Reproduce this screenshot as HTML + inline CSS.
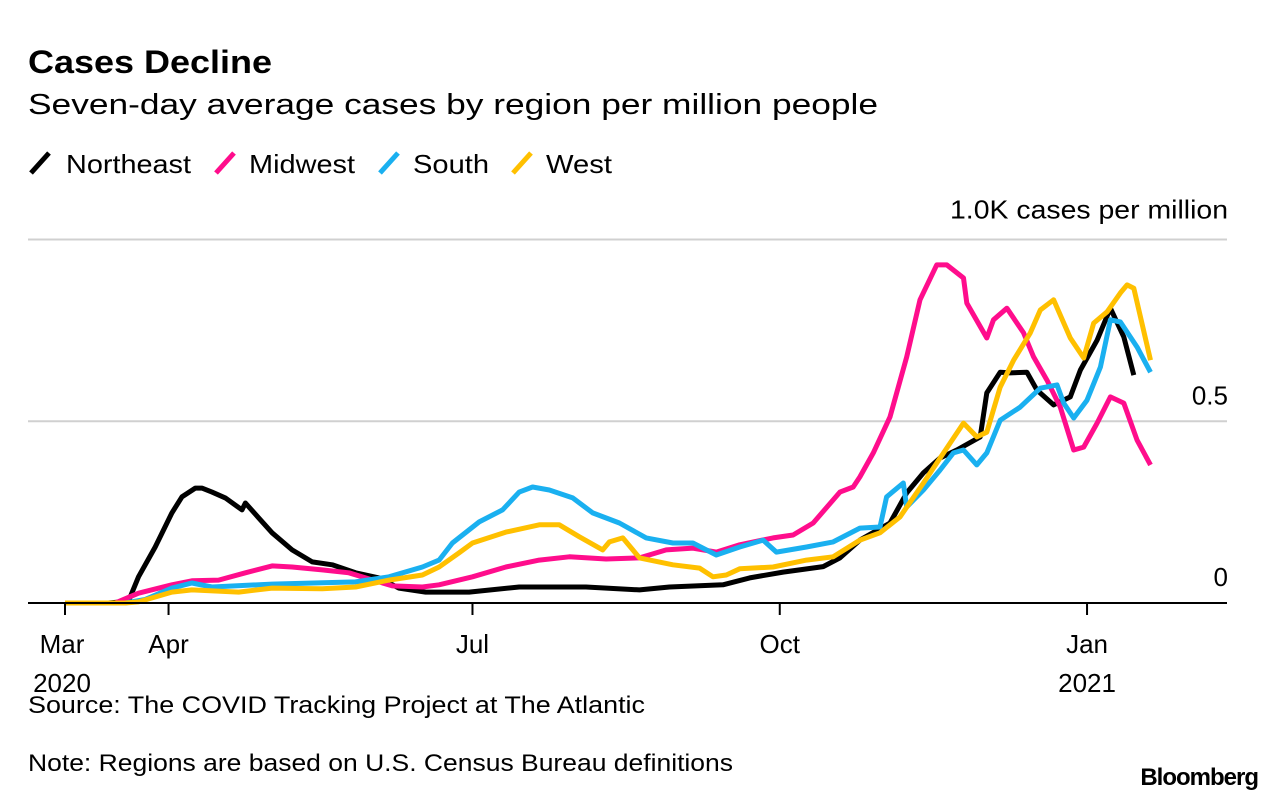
<!DOCTYPE html>
<html><head><meta charset="utf-8"><style>
body{margin:0;background:#fff;width:1286px;height:802px;overflow:hidden;font-family:"Liberation Sans",sans-serif;}
svg text{font-family:"Liberation Sans",sans-serif;}
</style></head><body>
<svg width="1286" height="802">
<text x="28" y="73" font-size="32" font-weight="bold" fill="#000" textLength="244" lengthAdjust="spacingAndGlyphs">Cases Decline</text>
<text x="28" y="114" font-size="29" fill="#000" textLength="850" lengthAdjust="spacingAndGlyphs">Seven-day average cases by region per million people</text>
<g>
<g><line x1="31" y1="173" x2="49" y2="153" stroke="#000" stroke-width="5"/><text x="66" y="173" font-size="26" textLength="125" lengthAdjust="spacingAndGlyphs">Northeast</text></g>
<g><line x1="216" y1="173" x2="234" y2="153" stroke="#ff0d8c" stroke-width="5"/><text x="249" y="173" font-size="26" textLength="106" lengthAdjust="spacingAndGlyphs">Midwest</text></g>
<g><line x1="380" y1="173" x2="398" y2="153" stroke="#1ab0f0" stroke-width="5"/><text x="413" y="173" font-size="26" textLength="76" lengthAdjust="spacingAndGlyphs">South</text></g>
<g><line x1="513" y1="173" x2="531" y2="153" stroke="#ffc000" stroke-width="5"/><text x="546" y="173" font-size="26" textLength="66" lengthAdjust="spacingAndGlyphs">West</text></g>
</g>
<g id="grid"></g>
<g id="series"></g>
<g id="xaxis"></g>
<text x="28" y="713" font-size="24" textLength="617" lengthAdjust="spacingAndGlyphs">Source: The COVID Tracking Project at The Atlantic</text>
<text x="28" y="771" font-size="24" textLength="705" lengthAdjust="spacingAndGlyphs">Note: Regions are based on U.S. Census Bureau definitions</text>
<text x="1258" y="785" font-size="24" font-weight="bold" text-anchor="end" letter-spacing="-1">Bloomberg</text>
</svg>
<script>
const yTicks=[0,500,1000];
const yTickLabels=["0","0.5","1.0K cases per million"];
const xTickDays=[0,31,122,214,306];
const xTickLabels=["Mar","Apr","Jul","Oct","Jan"];
const xYearLabels=["2020","","","","2021"];
const neDays=[0,13,19,22,27,32,35,39,41,44,48,53,54,58,62,68,74,80,87,94,100,108,121,136,156,172,181,197,205,215,227,232,238,247,252,257,262,267,274,276,280,283,288,291,296,301,304,309,313,317,320,325];
const neVals=[0,0,5,72,154,248,292,316,316,305,289,256,275,234,193,146,113,105,83,69,41,30,30,44,44,36,44,50,69,85,100,124,173,220,303,358,399,421,457,578,635,633,635,586,545,567,641,723,811,732,627];
const mwDays=[0,15,22,32,38,46,54,62,68,77,85,90,98,107,112,122,132,142,151,162,172,180,188,195,202,212,218,224,232,236,238,242,247,252,256,261,264,269,270,276,278,282,287,290,294,298,302,305,309,313,317,321,325];
const mwVals=[0,0,27,50,61,63,83,102,99,91,83,69,47,44,50,72,99,118,127,121,124,146,151,140,160,179,187,220,305,319,347,413,512,677,834,930,930,894,825,729,779,811,743,677,613,539,421,429,495,567,550,448,380];
const soDays=[0,18,24,32,38,44,62,87,97,107,112,116,124,131,136,140,145,152,158,166,174,182,188,195,202,209,213,222,230,238,244,246,251,252,257,262,266,269,273,276,280,286,292,297,299,302,306,310,313,316,321,325];
const soVals=[0,0,10,41,55,44,52,58,72,99,118,165,223,256,305,319,311,289,248,220,179,165,165,132,154,173,140,154,168,206,209,292,330,264,311,366,413,421,380,413,503,539,591,600,550,509,558,649,779,773,704,635];
const weDays=[0,18,22,32,38,52,62,77,87,97,107,112,118,122,132,142,148,154,161,163,167,172,182,190,194,198,202,212,222,230,238,244,250,257,265,269,273,276,280,284,289,292,296,301,305,308,312,316,318,320,325];
const weVals=[0,0,3,30,36,30,41,39,44,63,77,99,138,165,195,215,215,182,146,168,179,124,105,96,72,77,94,99,118,127,173,193,237,330,440,495,457,470,594,668,743,806,834,729,674,770,801,853,875,866,668];
const X=d=>65+d*3.34, Y=v=>603-v*0.3635;
const NS="http://www.w3.org/2000/svg";
const g=document.getElementById('grid'), s=document.getElementById('series'), xa=document.getElementById('xaxis');
function mk(tag,attrs,parent){const e=document.createElementNS(NS,tag);for(const k in attrs)e.setAttribute(k,attrs[k]);parent.appendChild(e);return e;}
yTicks.forEach((t,i)=>{
 if(t>0){const l=mk('line',{x1:28,x2:1227,y1:Y(t),y2:Y(t),stroke:'#d0d0d0','stroke-width':2},g);
 
 }
 const tx=mk('text',{x:1228,y:Y(t)-(t===1000?21:17),'font-size':26,'text-anchor':'end'},g);
 if(t===1000){tx.setAttribute('textLength',278);tx.setAttribute('lengthAdjust','spacingAndGlyphs');}
 tx.textContent=yTickLabels[i];
 
 
});
const series=[[neDays,neVals,'#000','northeast-line'],[mwDays,mwVals,'#ff0d8c','midwest-line'],[weDays,weVals,'#ffc000','west-line'],[soDays,soVals,'#1ab0f0','south-line']];
[series[0],series[1],series[3],series[2]].forEach(([d,v,c,n])=>{
 const p=mk('path',{d:d.map((x,i)=>(i?'L':'M')+X(x).toFixed(1)+','+Y(v[i]).toFixed(1)).join(''),fill:'none',stroke:c,'stroke-width':5,'stroke-linejoin':'round'},s);
 
 
});
const ax=mk('line',{x1:28,x2:1227,y1:603,y2:603,stroke:'#000','stroke-width':2},xa);


xTickDays.forEach((d,i)=>{
 const t=mk('line',{x1:X(d),x2:X(d),y1:603,y2:615,stroke:'#000','stroke-width':2},xa);
 
 
 const l=mk('text',{x:X(d)-(i===0?3:0),y:653,'font-size':26,'text-anchor':'middle'},xa);
 l.textContent=xTickLabels[i];
 
 
 if(xYearLabels[i]){const yl=mk('text',{x:X(d)-(i===0?3:0),y:692,'font-size':26,'text-anchor':'middle'},xa);
 yl.textContent=xYearLabels[i];
 
 }
});
</script>
</body></html>
